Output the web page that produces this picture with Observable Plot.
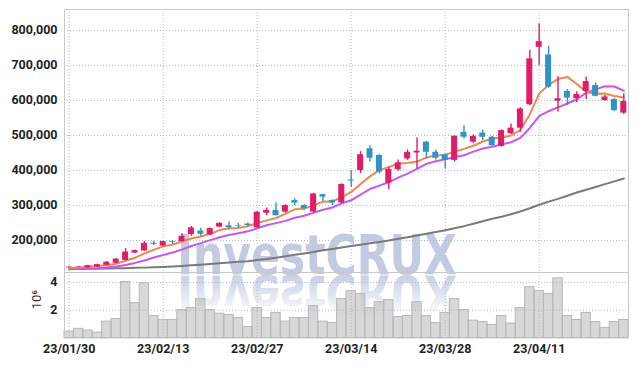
<!DOCTYPE html>
<html><head><meta charset="utf-8">
<script src="https://cdn.jsdelivr.net/npm/d3@7"></script>
<script src="https://cdn.jsdelivr.net/npm/@observablehq/plot@0.6"></script>
<style>
html,body{margin:0;padding:0;background:#fff;}
#chart{position:relative;width:637px;height:366px;overflow:hidden;}
#chart svg{position:absolute;left:0;}
</style></head><body><div id="chart"></div>
<script>
const dates = ["23/01/30","23/01/31","23/02/01","23/02/02","23/02/03","23/02/06","23/02/07","23/02/08","23/02/09","23/02/10",
"23/02/13","23/02/14","23/02/15","23/02/16","23/02/17","23/02/20","23/02/21","23/02/22","23/02/23","23/02/24",
"23/02/27","23/02/28","23/03/02","23/03/03","23/03/06","23/03/07","23/03/08","23/03/09","23/03/10","23/03/13",
"23/03/14","23/03/15","23/03/16","23/03/17","23/03/20","23/03/21","23/03/22","23/03/23","23/03/24","23/03/27",
"23/03/28","23/03/29","23/03/30","23/03/31","23/04/03","23/04/04","23/04/05","23/04/06","23/04/07","23/04/10",
"23/04/11","23/04/12","23/04/13","23/04/14","23/04/17","23/04/18","23/04/19","23/04/20","23/04/21","23/04/24"];
// prices in thousands of KRW
const open  = [122,124,122,124,129,135,143,164,170,192,184,197,197,217,227,216,238,242,243,247,236,278,286,281,314,300,281,331,314,307,373,400,462,443,364,402,433,450,481,452,445,429,509,481,507,495,469,505,521,588,752,730,598,626,605,626,643,600,603,564];
const close = [124,125,128,131,138,147,167,171,192,189,197,195,212,236,218,234,249,237,241,243,281,286,271,300,307,291,333,324,307,360,370,445,435,395,403,422,452,455,452,435,429,498,495,497,495,471,514,521,576,719,768,638,605,607,617,654,612,610,571,597];
const high  = [125,126,129,132,140,148,177,173,197,197,198,200,219,240,235,236,251,253,249,250,283,293,308,302,319,302,335,332,316,362,400,454,471,445,410,430,459,493,483,458,447,499,528,502,516,498,516,533,579,743,819,755,668,631,625,667,650,614,605,619];
const low   = [122,123,121,123,128,134,142,163,169,186,183,189,196,212,212,214,237,230,234,240,234,271,270,278,300,287,280,311,300,305,352,391,424,390,345,398,429,405,433,430,405,424,490,477,486,469,467,503,510,585,700,635,567,586,594,603,610,598,569,560];
const ma5   = [121,123,125,127,129.2,133.8,142.2,150.8,163,173.2,183.2,188.8,197,205.8,211.6,219,229.8,234.8,235.8,240.8,250.2,257.6,264.4,276.2,289,291,300.4,311,312.4,323,338.8,361.2,383.4,401,409.6,420,421.4,425.4,436.8,443.2,444.6,453.8,461.8,470.8,482.8,491.2,494.4,499.6,515.4,560.2,619.6,644.4,661.2,667.4,647,624.2,619,620,612.8,608.8];
const ma10  = [119,119.5,120,121,123,126,130,136,143,151.2,158.5,165.5,173.9,184.4,192.4,201.1,209.3,215.9,220.8,226.2,234.6,243.7,249.6,256,264.9,270.6,279,287.7,294.3,306,314.9,330.8,347.2,356.7,366.3,379.4,391.3,404.4,418.9,426.4,432.3,437.6,443.6,453.8,463,467.9,474.1,480.7,493.1,521.5,555.4,569.4,580.4,591.4,603.6,621.9,631.7,640.6,640.1,627.9];
const maLong = [118,118.5,119,119.5,120,120.5,121,122,122.5,123.5,124.5,125.5,127,129,131,133,135,137,139,141,144,147,151,155,159,163,167,172,176,180,184,188,192,196,200,205,209,214,219,224,229,235,241,248,255,262,268,275,283,292,302,311,319,328,337,345,353,361,369,377];
// volume in millions of shares
const volume = [0.46,0.66,0.54,0.39,1.18,1.37,4.04,2.51,3.94,1.58,1.3,1.3,2.01,2.16,2.8,2.01,1.75,1.66,1.44,0.8,2.16,1.44,1.8,1.18,1.44,1.44,2.3,1.18,1.08,2.8,3.37,3.18,2.16,2.58,2.73,1.51,1.58,2.58,1.58,1.08,1.8,2.8,2.01,1.25,1.15,0.94,1.58,1.04,2.16,3.66,3.39,3.18,4.3,1.58,1.3,1.8,1.15,0.73,1.15,1.3];
const dateTicks = [0,10,20,30,40,50];
const priceTicks = [200000,300000,400000,500000,600000,700000,800000];
const volTicks = [2,4];

const rows = dates.map((d,i)=>({i, date:d, open:open[i]*1000, close:close[i]*1000, high:high[i]*1000, low:low[i]*1000,
  ma5:ma5[i]*1000, ma10:ma10[i]*1000, maLong:maLong[i]*1000, vol:volume[i]}));

const UP = "#e21b6b", DOWN = "#2e94c8";
const candleColor = d => d.close >= d.open ? UP : DOWN;
const gridStyle = {stroke:"#b4bace", strokeOpacity:1, strokeWidth:1, strokeDasharray:"1,2"};
const font = {fontFamily:"Roboto, sans-serif", fontSize:"12.5px", fontWeight:"700", color:"#1e1e1e", background:"transparent", overflow:"visible"};

const chart = d3.select("#chart");

// watermark layer (behind the charts)
const wm = chart.append("svg").attr("width",637).attr("height",366).style("top","0px");
const grad = wm.append("defs").append("linearGradient").attr("id","fade")
  .attr("gradientUnits","userSpaceOnUse").attr("x1",0).attr("y1",0).attr("x2",0).attr("y2",-40);
grad.append("stop").attr("offset",0).attr("stop-color","#c3cbe3").attr("stop-opacity",0.9);
grad.append("stop").attr("offset",1).attr("stop-color","#c3cbe3").attr("stop-opacity",0);
const wmAttrs = s => s.attr("x",0).attr("y",0).attr("text-anchor","middle")
  .attr("font-family","DejaVu Sans, sans-serif").attr("font-weight","bold").attr("font-size",56).text("InvestCRUX");
wm.append("text").call(wmAttrs).attr("fill","#c3cbe3").attr("transform","translate(317,274) scale(0.76,1)");
wm.append("text").call(wmAttrs).attr("fill","url(#fade)").attr("transform","translate(317,276) scale(0.76,-1)");

const price = Plot.plot({
  width:637, height:273, marginTop:9, marginBottom:1, marginLeft:64, marginRight:9,
  style:font,
  x:{type:"linear", domain:[-0.5,59.5], axis:null},
  y:{domain:[108571,860000], ticks:priceTicks, tickFormat:d3.format(","), tickSize:0, tickPadding:7, label:null},
  marks:[
    Plot.ruleX(dateTicks, {x:d=>d, ...gridStyle}),
    Plot.ruleY(priceTicks, {y:d=>d, ...gridStyle}),
    Plot.line(rows, {x:"i", y:"maLong", stroke:"#7a7a7a", strokeWidth:2}),
    Plot.line(rows, {x:"i", y:"ma10", stroke:"#c957ec", strokeWidth:2}),
    Plot.line(rows, {x:"i", y:"ma5", stroke:"#f0874f", strokeWidth:2}),
    Plot.ruleX(rows, {x:"i", y1:"low", y2:"high", stroke:candleColor, strokeWidth:1.4}),
    Plot.rect(rows, {x1:d=>d.i-0.5, x2:d=>d.i+0.5, y1:"open", y2:"close", insetLeft:1.7, insetRight:1.7, fill:candleColor}),
    Plot.frame({stroke:"#c8c8c8"})
  ]
});
d3.select(price).style("top","0px");
chart.node().appendChild(price);

const vol = Plot.plot({
  width:637, height:94, marginTop:0, marginBottom:28.5, marginLeft:64, marginRight:9,
  style:font,
  x:{type:"linear", domain:[-0.5,59.5], ticks:dateTicks, tickFormat:i=>dates[i], tickSize:0, tickPadding:6, label:null},
  y:{domain:[0,4.72], ticks:volTicks, tickFormat:d=>d, tickSize:0, tickPadding:7, label:null},
  marks:[
    Plot.ruleX(dateTicks, {x:d=>d, ...gridStyle}),
    Plot.ruleY(volTicks, {y:d=>d, ...gridStyle}),
    Plot.rect(rows, {x1:d=>d.i-0.5, x2:d=>d.i+0.5, y1:0, y2:"vol", fill:"#a8a8a8", fillOpacity:0.45, stroke:"#b8b8b8", strokeWidth:1}),
    Plot.text(["10⁶"], {frameAnchor:"left", dx:-28, dy:4, rotate:-90, text:d=>d, fill:"#333", fontSize:13, fontWeight:400}),
    Plot.frame({stroke:"#c8c8c8"})
  ]
});
d3.select(vol).style("top","272px");
chart.node().appendChild(vol);
</script></body></html>
